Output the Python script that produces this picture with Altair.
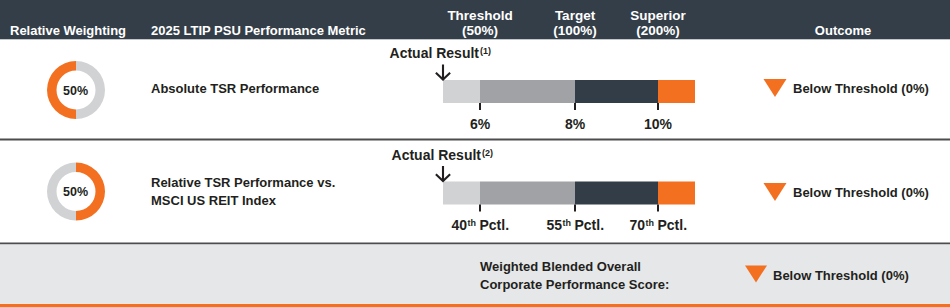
import math
import altair as alt
import pandas as pd

# ---------------- data ----------------
weights = [50, 50]                                   # relative weighting (%)
weight_side = ["left", "right"]                      # side of the donut the weight is drawn on
metric_lines = [["Absolute TSR Performance"],
                ["Relative TSR Performance vs.", "MSCI US REIT Index"]]
level_names = ["Threshold", "Target", "Superior"]
level_payouts = ["(50%)", "(100%)", "(200%)"]
tick_labels_1 = ["6%", "8%", "10%"]
tick_numbers_2 = ["40", "55", "70"]
tick_suffix_2 = "th"
tick_unit_2 = "Pctl."
actual_notes = ["(1)", "(2)"]
actual_level = [0, 0]                                # actual result at the bar's lower end
outcomes = ["Below Threshold (0%)", "Below Threshold (0%)"]
overall_label = ["Weighted Blended Overall", "Corporate Performance Score:"]
overall_outcome = "Below Threshold (0%)"
header_weight = "Relative Weighting"
header_metric = "2025 LTIP PSU Performance Metric"
header_outcome = "Outcome"
segment_names = ["below", "threshold", "target", "superior"]
segment_from = [0, 1, 2, 3]
segment_to = [1, 2, 3, 4]

# ---------------- style ----------------
FONT = "Liberation Sans, Arial, Helvetica, sans-serif"
INK = "#231f20"
HEAD_BG = "#343e48"
ORANGE = "#f37021"
LIGHT = "#d1d2d4"
MID = "#a1a2a5"
DARKSEG = "#333d47"
BAND = "#e6e7e8"
SEP = "#4d4d4f"
seg_color = {"below": LIGHT, "threshold": MID, "target": DARKSEG, "superior": ORANGE}

W, H = 950, 307
level_scale = alt.Scale(type="linear", domain=[0, 1, 2, 3, 4],
                        range=[443, 480, 575, 658, 695], zero=False, nice=False)
theta_scale = alt.Scale(domain=[0, 100], range=[0, 2 * math.pi], zero=False, nice=False)

one = pd.DataFrame({"k": [0]})
layers = []


def rect(x, x2, y, y2, color):
    return alt.Chart(one).mark_rect(color=color, strokeWidth=0).encode(
        x=alt.value(x), x2=alt.value(x2), y=alt.value(y), y2=alt.value(y2))


def txt(s, x, y, size=13, align="left", color=INK):
    return alt.Chart(one).mark_text(
        text=s, align=align, baseline="alphabetic", fontSize=size, font=FONT,
        fontWeight="bold", color=color).encode(x=alt.value(x), y=alt.value(y))


# backgrounds and rules
layers += [
    rect(0, W, 0, 39, HEAD_BG),
    rect(0, W, 39, 40, "#c3c6c9"),
    rect(0, W, 138.5, 140.5, SEP),
    rect(0, W, 242.5, 244.5, SEP),
    rect(0, W, 244.5, 304, BAND),
    rect(0, W, 304, H, ORANGE),
]

# header
layers += [
    txt(header_weight, 10, 34.5, color="white"),
    txt(header_metric, 151, 34.5, color="white"),
    txt(header_outcome, 843, 34.5, align="center", color="white"),
]
hdr = pd.DataFrame({"lvl": [1, 2, 3], "name": level_names, "pay": level_payouts})
for field, yb in (("name", 19.5), ("pay", 34.5)):
    layers.append(alt.Chart(hdr).mark_text(
        align="center", baseline="alphabetic", fontSize=13.5, font=FONT,
        fontWeight="bold", color="white").encode(
        x=alt.X("lvl:Q", scale=level_scale, axis=None),
        y=alt.value(yb), text=f"{field}:N"))

# rows
row_center = [90, 191.5]
bar_top = [80, 181.5]
bar_h = 23
metric_base = [[93.3], [186.5, 205]]
actual_base = [58.3, 160]
actual_right = [479, 481]
outcome_y = [88, 192]

for i in range(2):
    w = weights[i]
    if weight_side[i] == "left":
        t0, t1 = [0, 100 - w], [100 - w, 100]
    else:
        t0, t1 = [w, 0], [100, w]
    donut = pd.DataFrame({"part": ["rest", "weight"], "t0": t0, "t1": t1})
    donut["c"] = donut["part"].map({"rest": LIGHT, "weight": ORANGE})
    layers.append(alt.Chart(donut).mark_arc(radius=29, innerRadius=19.5, strokeWidth=0).encode(
        theta=alt.Theta("t0:Q", scale=theta_scale, stack=None),
        theta2="t1:Q",
        color=alt.Color("c:N", scale=None),
        x=alt.value(76), y=alt.value(row_center[i])))
    layers.append(txt(f"{w}%", 75.5, row_center[i] + 4.5, size=12.5, align="center"))

    for line, yb in zip(metric_lines[i], metric_base[i]):
        layers.append(txt(line, 151, yb))

    segs = pd.DataFrame({"seg": segment_names, "lo": segment_from, "hi": segment_to})
    segs["c"] = segs["seg"].map(seg_color)
    top = bar_top[i]
    layers.append(alt.Chart(segs).mark_rect(strokeWidth=0).encode(
        x=alt.X("lo:Q", scale=level_scale, axis=None), x2="hi:Q",
        y=alt.value(top), y2=alt.value(top + bar_h),
        color=alt.Color("c:N", scale=None)))

    ticks = pd.DataFrame({"lvl": [1, 2, 3]})
    layers.append(alt.Chart(ticks).mark_rule(color=INK, strokeWidth=2).encode(
        x=alt.X("lvl:Q", scale=level_scale, axis=None),
        y=alt.value(top + bar_h), y2=alt.value(top + bar_h + 7)))

    lab_base = top + bar_h + 25.5
    if i == 0:
        labs = pd.DataFrame({"lvl": [1, 2, 3], "t": tick_labels_1})
        layers.append(alt.Chart(labs).mark_text(
            align="center", baseline="alphabetic", fontSize=14, font=FONT,
            fontWeight="bold", color=INK).encode(
            x=alt.X("lvl:Q", scale=level_scale, axis=None), y=alt.value(lab_base), text="t:N"))
    else:
        labs = pd.DataFrame({"lvl": [1, 2, 3], "n": tick_numbers_2,
                             "s": [tick_suffix_2] * 3, "u": [tick_unit_2] * 3})
        for field, dx, size, yb, align in (("n", -13.0, 14, lab_base, "right"),
                                           ("s", -12.5, 9, lab_base - 4.5, "left"),
                                           ("u", -0.5, 14, lab_base, "left")):
            layers.append(alt.Chart(labs).mark_text(
                align=align, baseline="alphabetic", fontSize=size, font=FONT,
                fontWeight="bold", color=INK, dx=dx).encode(
                x=alt.X("lvl:Q", scale=level_scale, axis=None), y=alt.value(yb),
                text=f"{field}:N"))

    # actual result marker
    act = pd.DataFrame({"lvl": [actual_level[i]]})
    layers.append(alt.Chart(act).mark_point(
        shape="M0,-1L0,1M-0.95,0.1L0,1L0.95,0.1", size=225, filled=False,
        color=INK, strokeWidth=2.1, opacity=1).encode(
        x=alt.X("lvl:Q", scale=level_scale, axis=None), y=alt.value(top - 8)))
    layers.append(txt("Actual Result", actual_right[i], actual_base[i], size=14, align="right"))
    layers.append(txt(actual_notes[i], actual_right[i] + 1, actual_base[i] - 4.5, size=9))

    # outcome
    layers.append(alt.Chart(one).mark_point(
        shape="M-1,-0.78L1,-0.78L0,0.78Z", size=529, filled=True, color=ORANGE,
        opacity=1, strokeWidth=0).encode(x=alt.value(775), y=alt.value(outcome_y[i])))
    layers.append(txt(outcomes[i], 793, outcome_y[i] + 5))

# overall score row
layers.append(txt(overall_label[0], 480, 271))
layers.append(txt(overall_label[1], 480, 288.5))
layers.append(alt.Chart(one).mark_point(
    shape="M-1,-0.78L1,-0.78L0,0.78Z", size=484, filled=True, color=ORANGE,
    opacity=1, strokeWidth=0).encode(x=alt.value(756), y=alt.value(274)))
layers.append(txt(overall_outcome, 773, 280))

chart = alt.layer(*layers).properties(
    width=W, height=H, autosize=alt.AutoSizeParams(type="none"), padding=0,
    background="white").configure_view(stroke=None)

chart.save("out.html", embed_options={"renderer": "svg", "actions": False})
